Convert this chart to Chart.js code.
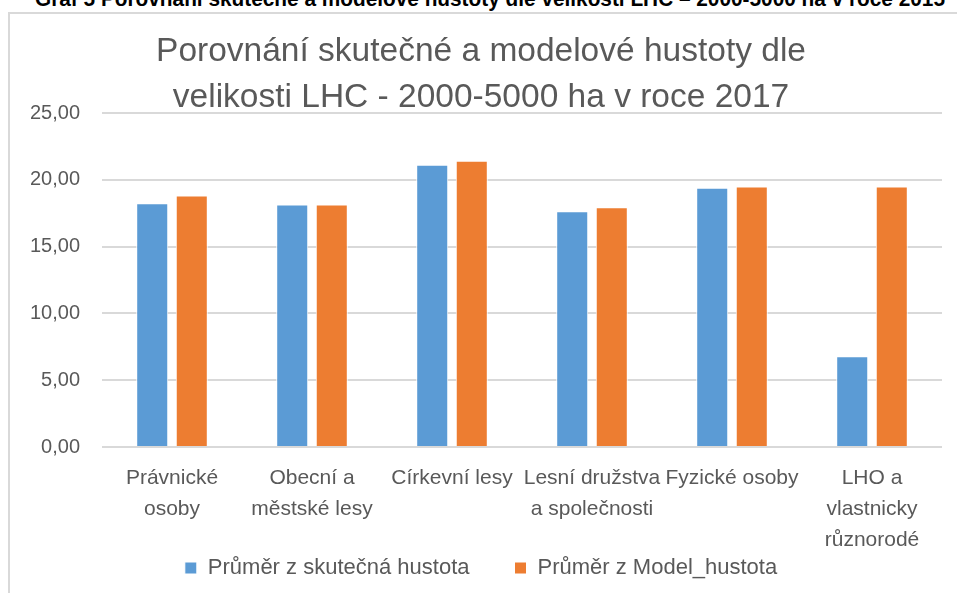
<!DOCTYPE html>
<html>
<head>
<meta charset="utf-8">
<script src="https://cdn.jsdelivr.net/npm/chart.js@4/dist/chart.umd.min.js"></script>
<style>
  html, body { margin: 0; padding: 0; background: #fff; width: 957px; height: 593px; overflow: hidden; }
  #hdr { position: absolute; left: 35px; top: -14px; font: bold 22px "Liberation Sans", sans-serif; color: #000; white-space: nowrap; transform-origin: 0 0; }
  #frame { position: absolute; left: 8px; top: 12px; width: 960px; height: 600px; border-left: 2px solid #d9d9d9; border-top: 2px solid #d9d9d9; }
  #wrap { position: absolute; left: 10px; top: 14px; width: 947px; height: 579px; }
</style>
</head>
<body>
<div id="hdr">Graf 5 Porovnání skutečné a modelové hustoty dle velikosti LHC – 2000-5000 ha v roce 2015</div>
<div id="frame"></div>
<div id="wrap"><canvas id="c"></canvas></div>
<script>
const categories = [
  ["Právnické", "osoby"],
  ["Obecní a", "městské lesy"],
  ["Církevní lesy"],
  ["Lesní družstva", "a společnosti"],
  ["Fyzické osoby"],
  ["LHO a", "vlastnicky", "různorodé"]
];
const seriesNames = ["Průměr z skutečná hustota", "Průměr z Model_hustota"];
const actualDensity = [18.25, 18.15, 21.13, 17.65, 19.40, 6.80];
const modelDensity  = [18.83, 18.15, 21.43, 17.95, 19.50, 19.50];
const titleLines = ["Porovnání skutečné a modelové hustoty dle", "velikosti LHC - 2000-5000 ha v roce 2017"];

// fit header width
const hdr = document.getElementById('hdr');
const w = hdr.getBoundingClientRect().width;
hdr.style.transform = 'scaleX(' + (910 / w) + ')';

const font = "'Liberation Sans', sans-serif";
const grey = '#595959';

new Chart(document.getElementById('c'), {
  type: 'bar',
  data: {
    labels: categories,
    datasets: [
      { label: seriesNames[0], data: actualDensity, backgroundColor: '#5b9bd5', borderColor: '#ffffff', borderWidth: 1,
        categoryPercentage: 0.565, barPercentage: 0.81 },
      { label: seriesNames[1], data: modelDensity, backgroundColor: '#ed7d31', borderColor: '#ffffff', borderWidth: 1,
        categoryPercentage: 0.565, barPercentage: 0.81 }
    ]
  },
  options: {
    responsive: true,
    maintainAspectRatio: false,
    animation: false,
    layout: { padding: { left: 10, right: 15, top: 0, bottom: 4 } },
    plugins: {
      title: {
        display: true,
        text: titleLines,
        color: grey,
        font: { family: font, size: 33.5, weight: 'normal', lineHeight: 1.373 },
        padding: { top: 15, bottom: -8 }
      },
      legend: {
        position: 'bottom',
        labels: {
          color: grey,
          font: { family: font, size: 22 },
          boxWidth: 12, boxHeight: 12,
          padding: 45
        }
      },
      tooltip: { enabled: false }
    },
    scales: {
      x: {
        grid: { display: false },
        border: { display: false },
        ticks: { color: grey, font: { family: font, size: 21, lineHeight: 1.48 }, maxRotation: 0, autoSkip: false, padding: 8 },
        afterFit: s => { s.height = 65; s._computeLabelArea = () => undefined; }
      },
      y: {
        min: 0, max: 25,
        ticks: { stepSize: 5, color: grey, font: { family: font, size: 20 }, padding: 22,
                 callback: v => v.toFixed(2).replace('.', ',') },
        grid: { color: '#d9d9d9', lineWidth: 2, drawTicks: false },
        border: { display: false },
        afterFit: s => { s.width = 82; }
      }
    }
  }
});
</script>
</body>
</html>
